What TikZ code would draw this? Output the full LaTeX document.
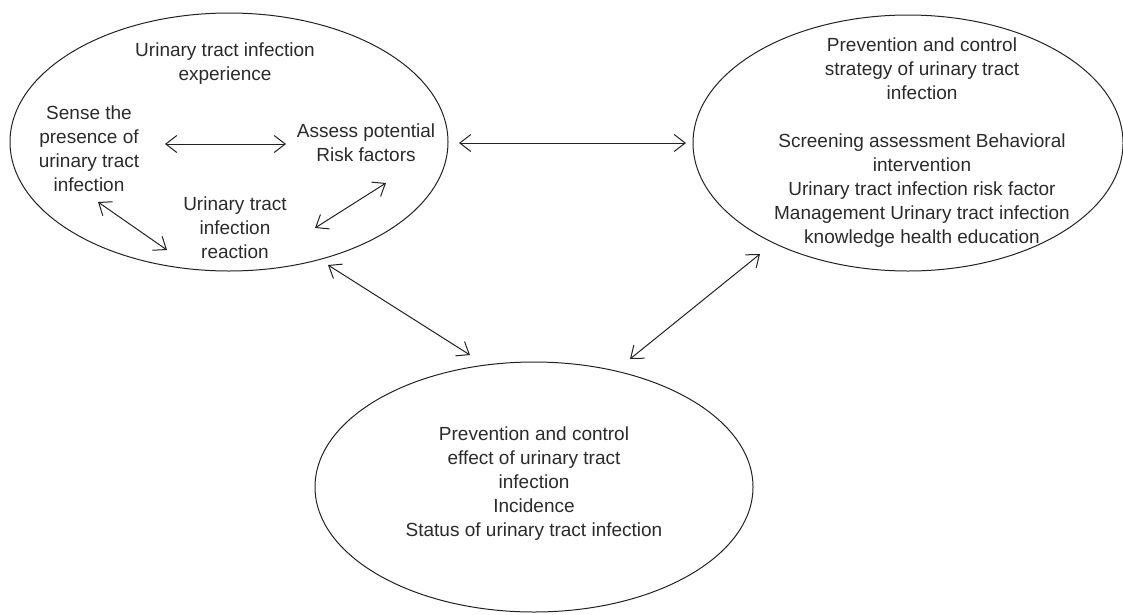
\documentclass[tikz,border=0pt]{standalone}
\usepackage{fontspec}
\setmainfont{Liberation Sans}
\usetikzlibrary{shapes.geometric,arrows.meta}
\definecolor{ink}{HTML}{222222}
\definecolor{txt}{HTML}{2A2A2A}
\tikzset{
  oval/.style={draw=ink, line width=1pt, ellipse, inner sep=0pt, outer sep=0pt},
  lbl/.style={align=center, text=txt, inner sep=0pt, font=\fontsize{19}{24}\selectfont},
  dbl/.style={draw=ink, line width=1pt, {Straight Barb[length=11pt,width=17pt]}-{Straight Barb[length=11pt,width=17pt]}}
}
\begin{document}
\begin{tikzpicture}[x=1pt,y=-1pt]
\useasboundingbox (0,0) rectangle (1123,614);
% ellipses
\node[oval, minimum width=438pt, minimum height=258pt] (left) at (229,142) {};
\node[oval, minimum width=430pt, minimum height=256pt] (right) at (908,143) {};
\node[oval, minimum width=438pt, minimum height=250pt] (bottom) at (534,487) {};
% texts
\node[lbl] (exp) at (225,63.5) {Urinary tract infection\\experience};
\node[lbl] (sense) at (89,149) {Sense the\\presence of\\urinary tract\\infection};
\node[lbl] (assess) at (366,143) {Assess potential\\Risk factors};
\node[lbl] (react) at (235,228) {Urinary tract\\infection\\reaction};
\node[lbl] (strat) at (922,142.5) {Prevention and control\\strategy of urinary tract\\infection\\[24pt]Screening assessment Behavioral\\intervention\\Urinary tract infection risk factor\\Management Urinary tract infection\\knowledge health education};
\node[lbl] (effect) at (534,483.5) {Prevention and control\\effect of urinary tract\\infection\\Incidence\\Status of urinary tract infection};
% arrow end points
\coordinate (a1s) at (165,144); \coordinate (a1e) at (286,144);
\coordinate (a2s) at (98,202); \coordinate (a2e) at (167,250);
\coordinate (a3s) at (315,228); \coordinate (a3e) at (386,183);
\coordinate (a4s) at (459,143); \coordinate (a4e) at (686,143);
\coordinate (a5s) at (328,265); \coordinate (a5e) at (470,355);
\coordinate (a6s) at (760,254); \coordinate (a6e) at (630,359);
\draw[dbl] (a1s) -- (a1e);
\draw[dbl] (a2s) -- (a2e);
\draw[dbl] (a3s) -- (a3e);
\draw[dbl] (a4s) -- (a4e);
\draw[dbl] (a5s) -- (a5e);
\draw[dbl] (a6s) -- (a6e);
\end{tikzpicture}
\end{document}
